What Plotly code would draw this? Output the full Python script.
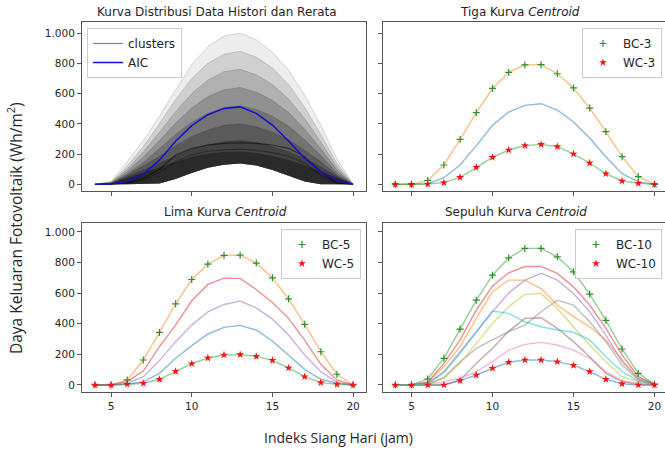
import plotly.graph_objects as go

# ---------------- data ----------------
hours = list(range(4, 21))

# Historical distribution cloud (upper edges of density bands)
cloud_b1 = [0, 20, 150, 290, 450, 625, 790, 910, 980, 1000, 955, 875, 755, 590, 390, 170, 0]
cloud_b2 = [0, 15, 120, 250, 400, 560, 700, 800, 860, 880, 840, 770, 660, 510, 330, 140, 0]
cloud_b3 = [0, 12, 100, 215, 345, 480, 600, 690, 745, 760, 725, 660, 565, 435, 280, 115, 0]
cloud_b4 = [0, 10, 85, 180, 290, 405, 505, 580, 625, 640, 610, 555, 475, 365, 235, 95, 0]
cloud_b5 = [0, 8, 70, 145, 235, 330, 410, 470, 508, 520, 495, 450, 385, 295, 190, 75, 0]
cloud_b6 = [0, 6, 60, 120, 185, 255, 315, 360, 390, 400, 380, 345, 295, 225, 150, 60, 0]
cloud_b7 = [0, 5, 50, 95, 140, 190, 230, 262, 282, 290, 276, 250, 215, 170, 115, 50, 0]
cloud_b8 = [0, 4, 40, 75, 110, 150, 180, 200, 212, 215, 205, 185, 160, 125, 85, 40, 0]
cloud_low = [0, 0, 0, 0, 5, 35, 75, 110, 130, 138, 125, 95, 55, 18, 0, 0, 0]
cluster_line1 = [0, 0, 10, 40, 100, 194, 238, 260, 271, 275, 271, 260, 238, 183, 84, 10, 0]
cluster_line2 = [0, 0, 5, 30, 80, 150, 195, 218, 228, 232, 225, 210, 185, 140, 60, 5, 0]
aic = [0, 2, 20, 67, 160, 285, 388, 460, 502, 512, 469, 392, 286, 172, 84, 26, 0]

# Tiga (3) centroids
tiga_c0 = [0, 0, 4, 44, 128, 256, 390, 478, 522, 533, 491, 412, 306, 183, 70, 18, 0]
tiga_bc = [0, 0, 26, 128, 297, 474, 634, 740, 789, 791, 731, 637, 504, 348, 183, 51, 0]
tiga_wc = [0, 0, 2, 11, 46, 112, 178, 227, 256, 264, 249, 201, 141, 70, 22, 7, 0]

# Lima (5) centroids
lima_bc = [0, 0, 33, 163, 343, 530, 689, 789, 846, 848, 796, 700, 563, 396, 217, 70, 0]
lima_c3 = [0, 0, 22, 91, 250, 391, 550, 657, 698, 696, 624, 539, 435, 293, 135, 33, 0]
lima_c4 = [0, 0, 11, 54, 159, 283, 391, 478, 526, 548, 504, 430, 326, 196, 87, 17, 0]
lima_c0 = [0, 0, 4, 22, 76, 174, 257, 333, 376, 389, 359, 287, 196, 102, 37, 11, 0]
lima_wc = [0, 0, 5, 11, 37, 89, 139, 176, 196, 198, 187, 161, 111, 54, 15, 4, 0]

# Sepuluh (10) centroids
sep_bc = [0, 0, 39, 174, 365, 554, 717, 830, 892, 892, 837, 739, 594, 422, 235, 76, 5]
sep_c3 = [0, 0, 20, 141, 294, 489, 646, 733, 774, 774, 729, 641, 522, 370, 196, 54, 5]
sep_c1 = [0, 0, 15, 120, 250, 435, 609, 685, 685, 630, 522, 446, 380, 294, 163, 44, 5]
sep_c4 = [0, 0, 12, 87, 217, 348, 478, 600, 685, 729, 685, 598, 478, 326, 152, 39, 3]
sep_c8 = [0, 0, 5, 44, 141, 272, 402, 511, 592, 598, 500, 380, 261, 152, 54, 22, 2]
sep_c9 = [0, 0, 8, 80, 206, 348, 483, 468, 413, 380, 359, 344, 294, 185, 87, 26, 2]
sep_c7 = [0, 0, 5, 50, 152, 239, 294, 348, 391, 478, 554, 522, 413, 283, 130, 33, 2]
sep_c5 = [0, 0, 0, 0, 33, 141, 239, 352, 435, 439, 370, 283, 185, 76, 22, 3, 0]
sep_c6 = [0, 0, 3, 22, 44, 87, 152, 228, 265, 278, 261, 228, 174, 87, 26, 13, 0]
sep_wc = [0, 0, 0, 0, 28, 65, 109, 148, 163, 163, 152, 128, 87, 37, 7, 0, 0]

x_ticks = [5, 10, 15, 20]
y_ticks = [0, 200, 400, 600, 800, 1000]
y_tick_labels = ["0", "200", "400", "600", "800", "1.000"]

titles = ["Kurva Distribusi Data Histori dan Rerata", "Tiga Kurva <i>Centroid</i>",
          "Lima Kurva <i>Centroid</i>", "Sepuluh Kurva <i>Centroid</i>"]

# ---------------- style ----------------
C = {"C0": "#1f77b4", "C1": "#ff7f0e", "C2": "#2ca02c", "C3": "#d62728", "C4": "#9467bd",
     "C5": "#8c564b", "C6": "#e377c2", "C7": "#7f7f7f", "C8": "#bcbd22", "C9": "#17becf"}
TICKFONT = dict(family="DejaVu Sans", size=10.5, color="#262626")
SPINE = "#555555"
W, H = 665, 452

fig = go.Figure()

def ax(n, suffix):
    return suffix if n == 1 else f"{suffix}{n}"

# Panel 1: cloud
bands = [(cloud_b1, 0.07), (cloud_b2, 0.12), (cloud_b3, 0.15), (cloud_b4, 0.18),
         (cloud_b5, 0.20), (cloud_b6, 0.22), (cloud_b7, 0.28), (cloud_b8, 0.35)]
for upper, a in bands:
    fig.add_trace(go.Scatter(x=hours + hours[::-1], y=upper + cloud_low[::-1], fill="toself",
                             fillcolor=f"rgba(0,0,0,{a})", line=dict(width=0), mode="lines",
                             hoverinfo="skip", showlegend=False, xaxis="x", yaxis="y"))
for upper, a in bands:
    fig.add_trace(go.Scatter(x=hours, y=upper, mode="lines", line=dict(color="rgba(0,0,0,0.14)", width=1),
                             hoverinfo="skip", showlegend=False, xaxis="x", yaxis="y"))
fig.add_trace(go.Scatter(x=hours, y=cluster_line2, mode="lines", line=dict(color="rgba(0,0,0,0.35)", width=1),
                         showlegend=False, xaxis="x", yaxis="y"))
fig.add_trace(go.Scatter(x=hours, y=cluster_line1, mode="lines", line=dict(color="rgba(0,0,0,0.5)", width=1.2),
                         name="clusters", legend="legend", xaxis="x", yaxis="y"))
fig.add_trace(go.Scatter(x=hours, y=aic, mode="lines", line=dict(color="#1010d0", width=1.5),
                         name="AIC", legend="legend", xaxis="x", yaxis="y"))

def lines(n, series):
    for ys, col in series:
        fig.add_trace(go.Scatter(x=hours, y=ys, mode="lines", line=dict(color=C[col], width=1.4),
                                 opacity=0.5, showlegend=False, xaxis=ax(n, "x"), yaxis=ax(n, "y")))

def markers(n, bc, wc, k, leg):
    fig.add_trace(go.Scatter(x=hours, y=bc, mode="markers", name=f"BC-{k}", legend=leg,
                             marker=dict(symbol="cross-thin", size=5, line=dict(color="#2f8f2f", width=1.2)),
                             xaxis=ax(n, "x"), yaxis=ax(n, "y")))
    fig.add_trace(go.Scatter(x=hours, y=wc, mode="markers", name=f"WC-{k}", legend=leg,
                             marker=dict(symbol="star", size=6, color="#ff1010", line=dict(width=0)),
                             xaxis=ax(n, "x"), yaxis=ax(n, "y")))

lines(2, [(tiga_c0, "C0"), (tiga_bc, "C1"), (tiga_wc, "C2")])
markers(2, tiga_bc, tiga_wc, 3, "legend2")

lines(3, [(lima_c0, "C0"), (lima_bc, "C1"), (lima_wc, "C2"), (lima_c3, "C3"), (lima_c4, "C4")])
markers(3, lima_bc, lima_wc, 5, "legend3")

lines(4, [(sep_wc, "C0"), (sep_c1, "C1"), (sep_bc, "C2"), (sep_c3, "C3"), (sep_c4, "C4"),
          (sep_c5, "C5"), (sep_c6, "C6"), (sep_c7, "C7"), (sep_c8, "C8"), (sep_c9, "C9")])
markers(4, sep_bc, sep_wc, 10, "legend4")

# ---------------- layout ----------------
px_x = lambda p: p / W
px_y = lambda p: 1 - p / H
dom_x = [[px_x(82), px_x(366)], [px_x(383), 1.0]]
dom_y = [[px_y(191), px_y(22)], [px_y(392), px_y(222.7)]]
x_ranges = [[3.2, 20.8], [3.24, 20.65]]
y_ranges = [[-44, 1073], [-46, 1060]]

layout = dict(width=W, height=H, margin=dict(l=0, r=0, t=0, b=0),
              paper_bgcolor="white", plot_bgcolor="white", showlegend=True)
for i in range(4):
    row, col = i // 2, i % 2
    n = i + 1
    xa = dict(domain=dom_x[col], range=x_ranges[col], anchor=ax(n, "y"),
              tickvals=x_ticks, showticklabels=(row == 1), ticks="outside", ticklen=4,
              tickcolor=SPINE, tickfont=TICKFONT, showgrid=False, zeroline=False,
              showline=True, linecolor=SPINE, linewidth=1, mirror=True,
              ticklabeloverflow="allow")
    ya = dict(domain=dom_y[row], range=y_ranges[row], anchor=ax(n, "x"),
              tickvals=y_ticks, ticktext=y_tick_labels, showticklabels=(col == 0),
              ticks="outside", ticklen=4, tickcolor=SPINE, tickfont=TICKFONT,
              showgrid=False, zeroline=False, showline=True, linecolor=SPINE, linewidth=1,
              mirror=(col == 0))
    layout["xaxis" if n == 1 else f"xaxis{n}"] = xa
    layout["yaxis" if n == 1 else f"yaxis{n}"] = ya

leg_common = dict(bgcolor="rgba(255,255,255,0.85)", bordercolor="#cccccc", borderwidth=1,
                  font=dict(family="DejaVu Sans", size=12, color="#262626"),
                  xanchor="left", yanchor="top", tracegroupgap=0)
layout["legend"] = dict(leg_common, x=px_x(87), y=px_y(28))
layout["legend2"] = dict(leg_common, x=px_x(582), y=px_y(28))
layout["legend3"] = dict(leg_common, x=px_x(281), y=px_y(229))
layout["legend4"] = dict(leg_common, x=px_x(575), y=px_y(229))

title_pos = [(217, 12), (520, 12), (225, 212), (516, 212)]
anns = []
for t, (cx, cy) in zip(titles, title_pos):
    anns.append(dict(text=t, x=px_x(cx), y=px_y(cy), xref="paper", yref="paper", showarrow=False,
                     xanchor="center", yanchor="middle",
                     font=dict(family="DejaVu Sans", size=12, color="#262626")))
anns.append(dict(text="Indeks Siang Hari (jam)", x=px_x(338), y=px_y(437), xref="paper", yref="paper",
                 showarrow=False, xanchor="center", yanchor="middle",
                 font=dict(family="Open Sans", size=14, color="#262626")))
anns.append(dict(text="Daya Keluaran Fotovoltaik (Wh/m<sup>2</sup>)", x=px_x(15), y=px_y(228),
                 xref="paper", yref="paper", showarrow=False, textangle=-90,
                 xanchor="center", yanchor="middle",
                 font=dict(family="Open Sans", size=15.5, color="#262626")))
layout["annotations"] = anns

fig.update_layout(**layout)
fig.write_html("out.html", config={"displayModeBar": False},
               post_script="document.body.style.margin='0';")
